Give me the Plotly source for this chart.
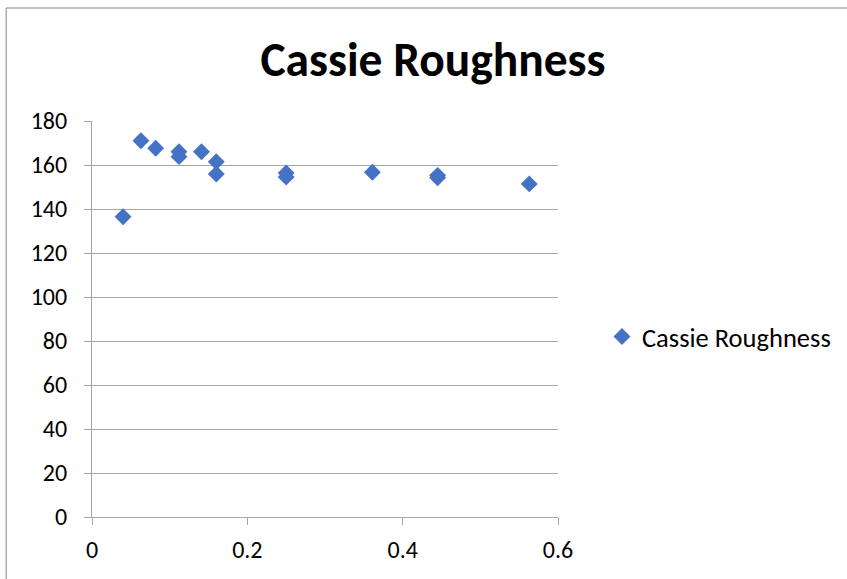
import plotly.graph_objects as go

series_name = "Cassie Roughness"
x_vals = [0.040, 0.063, 0.082, 0.112, 0.112, 0.141, 0.160, 0.160, 0.250, 0.250, 0.361, 0.445, 0.445, 0.563]
y_vals = [136.5, 171.0, 167.6, 166.0, 163.8, 166.0, 161.5, 155.9, 156.4, 154.5, 156.7, 155.3, 154.2, 151.4]
x_ticks = [0, 0.2, 0.4, 0.6]
x_tick_labels = ["0", "0.2", "0.4", "0.6"]
y_ticks = [0, 20, 40, 60, 80, 100, 120, 140, 160, 180]

FONT = "Carlito, Lato, 'Open Sans', sans-serif"
GRID = "#A6A6A6"
BLUE = "#4472C4"

fig = go.Figure()
fig.add_trace(go.Scatter(
    x=x_vals, y=y_vals, mode="markers", name=series_name,
    marker=dict(symbol="diamond", size=13, color=BLUE, line=dict(width=0)),
    showlegend=True,
))

fig.update_layout(
    width=847, height=579,
    margin=dict(l=92, r=288, t=121, b=62),
    paper_bgcolor="white", plot_bgcolor="white",
    font=dict(family=FONT, size=24, color="#000000"),
    title=dict(text="<b>Cassie Roughness</b>", x=433/847, xanchor="center",
               y=1 - 59/579, yanchor="middle",
               font=dict(family=FONT, size=47.5, color="#000000")),
    xaxis=dict(range=[0, 0.6], tickvals=x_ticks, ticktext=x_tick_labels,
               showgrid=False, zeroline=False, showline=True, linecolor=GRID, linewidth=1,
               ticks="outside", ticklen=7, tickcolor=GRID, tickwidth=1,
               ticklabelstandoff=4,
               tickfont=dict(family=FONT, size=24, color="#000000")),
    yaxis=dict(range=[0, 180], tickvals=y_ticks,
               showgrid=True, gridcolor=GRID, gridwidth=1, zeroline=False,
               showline=True, linecolor=GRID, linewidth=1,
               ticks="outside", ticklen=7, tickcolor=GRID, tickwidth=1,
               ticklabelstandoff=12,
               tickfont=dict(family=FONT, size=24, color="#000000")),
    legend=dict(x=1.092, xanchor="left", y=0.455, yanchor="middle",
                font=dict(family=FONT, size=26.5, color="#000000"),
                bgcolor="rgba(0,0,0,0)", itemwidth=30),
    shapes=[dict(type="rect", xref="paper", yref="paper",
                 x0=(6 - 92) / 467, x1=2.0, y0=-0.5, y1=(517 - 8) / 396,
                 line=dict(color="#868686", width=1), fillcolor="rgba(0,0,0,0)",
                 layer="below")],
)

fig.write_html("out.html")
